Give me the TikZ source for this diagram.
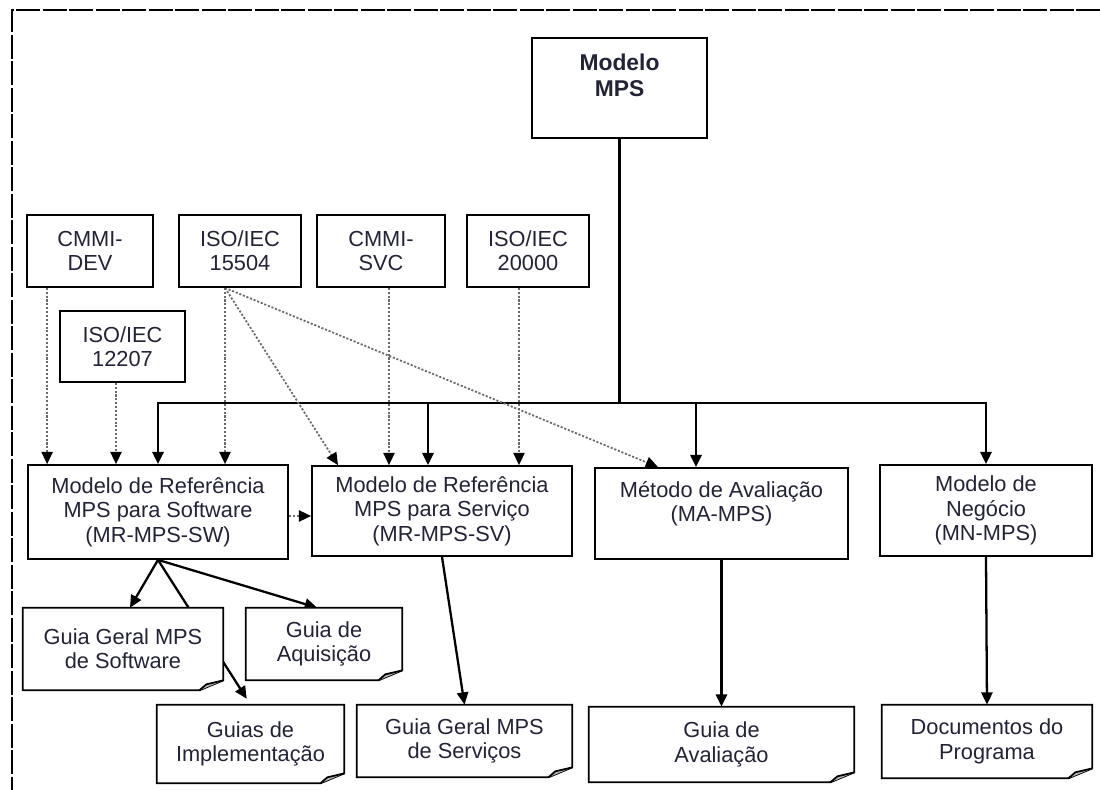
\documentclass[tikz,border=0pt]{standalone}
\usepackage{fontspec}
\setmainfont{Liberation Sans}
\usetikzlibrary{arrows.meta, positioning, backgrounds}

\definecolor{txtgray}{RGB}{35,35,55}
\definecolor{dotgray}{RGB}{105,105,105}
\definecolor{foldgray}{RGB}{185,185,185}

\newcommand{\docframe}[1]{%
	\draw[docline] (#1.north west) -- (#1.north east) -- ([yshift=0.2cm]#1.south east)
		-- ([xshift=-0.48cm]#1.south east) -- (#1.south west) -- cycle;
	\filldraw[docline, fill=foldgray] ([xshift=-0.48cm]#1.south east)
		-- ([xshift=-0.34cm, yshift=0.12cm]#1.south east) -- ([yshift=0.2cm]#1.south east);
}

\begin{document}
\begin{tikzpicture} [
						x=0.02cm, y=-0.02cm,
						every node/.style={font=\fontsize{12.4}{13.9}\selectfont, text=txtgray, align=center, inner sep=0pt},
						box/.style={draw, fill=white, line width=1pt},
						doc/.style={fill=white},
						docline/.style={line width=1pt},
						arrowhd/.style={-{Triangle[length=7pt, width=6.4pt]}},
						link/.style={line width=1.3pt, arrowhd},
						dep/.style={draw=dotgray, line width=1pt, dash pattern=on 1.2pt off 1pt,
							-{Triangle[length=7pt, width=6.4pt, color=black]}},
						outerframe/.style={line width=1pt, dash pattern=on 0.48cm off 0.05cm}
					]

\useasboundingbox (0,0) rectangle (1100,790);
\draw[outerframe] (1100,10) -- (12,10) -- (12,790);

\node (mps) [box, minimum width=3.5cm, minimum height=2cm] at (619.5,88) {};
\node (mpstxt) [below=0.32cm of mps.north, font=\fontsize{13}{15.3}\selectfont\bfseries] {Modelo\\MPS};

\node (dev) [box, minimum width=2.52cm, minimum height=1.44cm] at (90,251) {CMMI-\\DEV};
\node (i15504) [box, minimum width=2.44cm, minimum height=1.44cm] at (240,251) {ISO/IEC\\15504};
\node (svc) [box, minimum width=2.56cm, minimum height=1.44cm] at (381,251) {CMMI-\\SVC};
\node (i20000) [box, minimum width=2.44cm, minimum height=1.44cm] at (528,251) {ISO/IEC\\20000};
\node (i12207) [box, minimum width=2.5cm, minimum height=1.42cm] at (122.5,346.5) {ISO/IEC\\12207};

\node (sw) [box, minimum width=5.2cm, minimum height=1.88cm] at (158,512) {Modelo de Referência\\MPS para Software\\(MR-MPS-SW)};
\node (sv) [box, minimum width=5.2cm, minimum height=1.8cm] at (442,511) {Modelo de Referência\\MPS para Serviço\\(MR-MPS-SV)};
\node (ma) [box, minimum width=5.06cm, minimum height=1.82cm] at (721.5,513.5) {Método de Avaliação\\(MA-MPS)\\\mbox{}};
\node (mn) [box, minimum width=4.24cm, minimum height=1.82cm] at (986,510.5) {Modelo de\\Negócio\\(MN-MPS)};

\node (gsw) [doc, minimum width=4cm, minimum height=1.64cm] at (123,649) {Guia Geral MPS\\de Software};
\node (aq) [doc, minimum width=3.12cm, minimum height=1.44cm] at (324,644) {Guia de\\Aquisição};
\node (impl) [doc, minimum width=3.74cm, minimum height=1.56cm] at (250.5,744) {Guias de\\Implementação};
\node (gsv) [doc, minimum width=4.3cm, minimum height=1.44cm] at (464.5,741) {Guia Geral MPS\\de Serviços};
\node (av) [doc, minimum width=5.3cm, minimum height=1.5cm] at (721.5,744.5) {Guia de\\Avaliação};
\node (doc) [doc, minimum width=4.2cm, minimum height=1.46cm] at (987,741.5) {Documentos do\\Programa};

\docframe{gsw}
\docframe{aq}
\docframe{impl}
\docframe{gsv}
\docframe{av}
\docframe{doc}

\coordinate (bus) at ([yshift=-5.28cm]mps.south);
\coordinate (src) at ([xshift=-0.3cm]i15504.south);

\begin{pgfonlayer}{background}
\draw[line width=1.3pt] (mps.south) -- (bus);
\draw[link] (bus) -| (sw.north);
\draw[link] (bus) -| (mn.north);
\draw[link] ([xshift=-0.28cm]bus -| sv.north) -- ([xshift=-0.28cm]sv.north);
\draw[link] ([xshift=-0.51cm]bus -| ma.north) -- ([xshift=-0.51cm]ma.north);

\draw[link] (sw.south) -- ([xshift=0.14cm]gsw.north);
\draw[link, shorten >=0.14cm] (sw.south) -- (impl.north);
\draw[link] (sw.south) -- ([xshift=-0.14cm]aq.north);
\draw[link] (sv.south) -- (gsv.north);
\draw[link] (ma.south) -- (av.north);
\draw[link] (mn.south) -- (doc.north);

\draw[dep] ([xshift=0.42cm]dev.south west) -- ([xshift=0.42cm]dev.south west |- sw.north);
\draw[dep] ([xshift=-0.13cm]i12207.south) -- ([xshift=-0.13cm]i12207.south |- sw.north);
\draw[dep] (src) -- (src |- sw.north);
\draw[dep] (src) -- ([xshift=-2.08cm]sv.north);
\draw[dep] (src) -- ([xshift=-1.27cm]ma.north);
\draw[dep] ([xshift=0.16cm]svc.south) -- ([xshift=0.16cm]svc.south |- sv.north);
\draw[dep] ([xshift=-0.18cm]i20000.south) -- ([xshift=-0.18cm]i20000.south |- sv.north);
\draw[dep] ([yshift=-0.08cm]sw.east) -- ([yshift=-0.08cm]sw.east -| sv.west);
\end{pgfonlayer}
\end{tikzpicture}
\end{document}
